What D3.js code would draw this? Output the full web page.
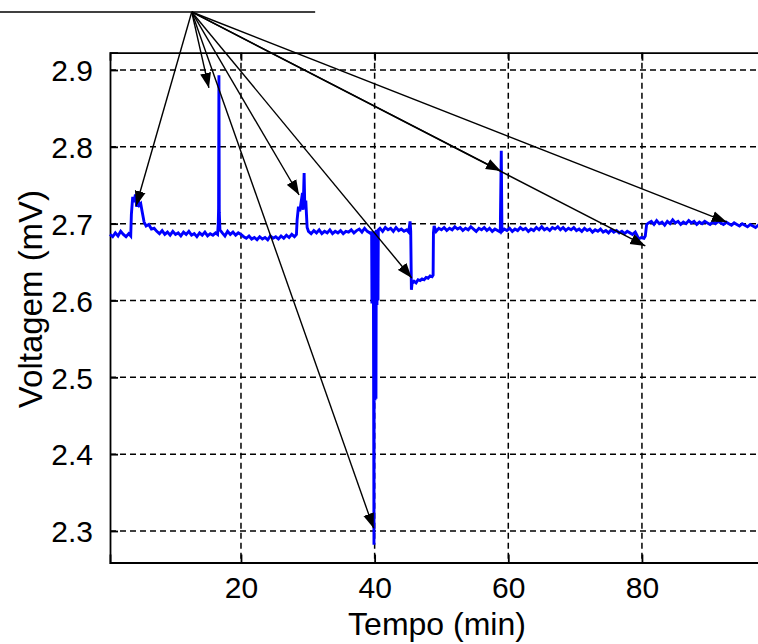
<!DOCTYPE html>
<html>
<head>
<meta charset="utf-8">
<script src="https://cdn.jsdelivr.net/npm/d3@7"></script>
<style>
  html, body { margin: 0; padding: 0; background: #fff; }
  svg { display: block; }
  text { font-family: "Liberation Sans", Arial, sans-serif; fill: #000; }
</style>
</head>
<body>
<svg id="chart" width="758" height="644"></svg>
<script>
// ---------------- data ----------------
const xTicks = [20, 40, 60, 80];
const yTicks = [2.3, 2.4, 2.5, 2.6, 2.7, 2.8, 2.9];
const xLabel = "Tempo (min)";
const yLabel = "Voltagem (mV)";

// time (min)
const tempo = [
  0.4, 0.8, 1.2, 1.6, 2.0, 2.4, 2.8, 3.2, 3.5,
  3.6, 3.8, 4.0, 4.2, 4.4, 4.6, 4.8, 5.0, 5.2, 5.5, 5.8, 6.2, 6.6, 7.0,
  7.4, 7.8, 8.2, 8.6, 9.0, 9.4, 9.8, 10.2, 10.6, 11.0, 11.4, 11.8, 12.2, 12.6, 13.0, 13.4, 13.8, 14.2, 14.6, 15.0, 15.4, 15.8, 16.2, 16.5,
  16.6, 16.65, 16.7, 16.75, 16.85,
  17.2, 17.6, 18.0, 18.4, 18.8, 19.2, 19.6, 20.0, 20.4, 20.8, 21.2, 21.6, 22.0, 22.4, 22.8, 23.2, 23.6, 24.0, 24.4, 24.8, 25.2, 25.6, 26.0, 26.4, 26.8, 27.2, 27.6, 28.0, 28.3,
  28.4, 28.6, 28.8, 29.0, 29.2, 29.3, 29.45, 29.55, 29.7, 29.8, 29.9, 30.1,
  30.5, 30.9, 31.3, 31.7, 32.1, 32.5, 32.9, 33.3, 33.7, 34.1, 34.5, 34.9, 35.3, 35.7, 36.1, 36.5, 36.9, 37.3, 37.7, 38.1, 38.5, 38.9, 39.3, 39.5,
  39.55, 39.6, 39.65, 39.75, 39.8, 39.9, 39.95, 40.05, 40.1, 40.2, 40.25, 40.35, 40.4, 40.5, 40.55,
  40.8, 41.2, 41.6, 42.0, 42.4, 42.8, 43.2, 43.6, 44.0, 44.4, 44.8, 45.1, 45.3, 45.4,
  45.5, 45.6, 45.9, 46.2, 46.5, 46.8, 47.1, 47.4, 47.7, 48.0, 48.3, 48.6, 48.75,
  48.8, 48.9, 49.2, 49.6, 50.0, 50.4, 50.8, 51.2, 51.6, 52.0, 52.4, 52.8, 53.2, 53.6, 54.0, 54.4, 54.8, 55.2, 55.6, 56.0, 56.4, 56.8, 57.2, 57.6, 58.0, 58.4, 58.8,
  58.95, 59.05,
  59.4, 59.8, 60.2, 60.6, 61.0, 61.4, 61.8, 62.2, 62.6, 63.0, 63.4, 63.8, 64.2, 64.6, 65.0, 65.4, 65.8, 66.2, 66.6, 67.0, 67.4, 67.8, 68.2, 68.6, 69.0, 69.4, 69.8,
  70.2, 70.6, 71.0, 71.4, 71.8, 72.2, 72.6, 73.0, 73.4, 73.8, 74.2, 74.6, 75.0, 75.4, 75.8, 76.2, 76.6, 77.0, 77.4, 77.8, 78.2, 78.6, 79.0, 79.3,
  79.5, 79.9, 80.3, 80.5, 80.7,
  81.0, 81.4, 81.8, 82.2, 82.6, 83.0, 83.4, 83.8, 84.2, 84.6, 85.0, 85.4, 85.8, 86.2, 86.6, 87.0, 87.4, 87.8, 88.2, 88.6, 89.0, 89.4, 89.8,
  90.2, 90.6, 91.0, 91.4, 91.8, 92.2, 92.6, 93.0, 93.4, 93.8, 94.2, 94.6, 95.0, 95.4, 95.8, 96.2, 96.6, 97.0, 97.4, 97.8, 98.2, 98.6, 99.0, 99.4, 99.8
];

// voltage (mV)
const voltagem = [
  2.686, 2.683, 2.688, 2.684, 2.690, 2.686, 2.683, 2.687, 2.684,
  2.712, 2.735, 2.728, 2.738, 2.722, 2.732, 2.724, 2.726, 2.716, 2.702, 2.697, 2.699, 2.693, 2.694,
  2.690, 2.687, 2.691, 2.686, 2.689, 2.685, 2.690, 2.686, 2.688, 2.684, 2.689, 2.686, 2.690, 2.685, 2.687, 2.683, 2.688, 2.685, 2.689, 2.684, 2.687, 2.685, 2.688, 2.686,
  2.700, 2.720, 2.893, 2.715, 2.692,
  2.688, 2.684, 2.690, 2.686, 2.689, 2.685, 2.688, 2.686, 2.683, 2.681, 2.684, 2.680, 2.682, 2.679, 2.683, 2.680, 2.682, 2.679, 2.684, 2.681, 2.683, 2.680, 2.684, 2.681, 2.685, 2.682, 2.686, 2.683, 2.686,
  2.705, 2.722, 2.716, 2.728, 2.740, 2.718, 2.766, 2.720, 2.730, 2.712, 2.695, 2.690,
  2.687, 2.691, 2.688, 2.692, 2.687, 2.690, 2.688, 2.692, 2.687, 2.690, 2.688, 2.691, 2.687, 2.690, 2.689, 2.692, 2.688, 2.691, 2.693, 2.689, 2.694, 2.690, 2.688, 2.686,
  2.690, 2.596, 2.688, 2.600, 2.690, 2.282, 2.690, 2.470, 2.690, 2.472, 2.692, 2.594, 2.690, 2.600, 2.692,
  2.694, 2.690, 2.695, 2.692, 2.694, 2.690, 2.695, 2.691, 2.693, 2.690, 2.692, 2.689, 2.703, 2.690,
  2.614, 2.622, 2.625, 2.623, 2.627, 2.626, 2.628, 2.627, 2.630, 2.629, 2.632, 2.631, 2.633,
  2.688, 2.697, 2.690, 2.694, 2.692, 2.695, 2.691, 2.694, 2.692, 2.696, 2.693, 2.695, 2.691, 2.694, 2.692, 2.696, 2.693, 2.690, 2.694, 2.692, 2.695, 2.691, 2.694, 2.690, 2.693, 2.691, 2.689,
  2.795, 2.690,
  2.693, 2.691, 2.694, 2.690, 2.693, 2.691, 2.695, 2.692, 2.694, 2.690, 2.693, 2.691, 2.695, 2.692, 2.696, 2.692, 2.694, 2.691, 2.695, 2.693, 2.696, 2.692, 2.695, 2.691, 2.694, 2.692, 2.695,
  2.691, 2.693, 2.690, 2.694, 2.691, 2.693, 2.689, 2.692, 2.690, 2.693, 2.689, 2.691, 2.688, 2.692, 2.689, 2.691, 2.688, 2.690, 2.687, 2.690, 2.688, 2.686, 2.689, 2.684,
  2.680, 2.682, 2.681, 2.684, 2.699,
  2.701, 2.703, 2.699, 2.704, 2.700, 2.702, 2.698, 2.703, 2.700, 2.705, 2.701, 2.703, 2.699, 2.702, 2.700, 2.704, 2.701, 2.703, 2.699, 2.702, 2.700, 2.703, 2.701,
  2.699, 2.702, 2.700, 2.703, 2.701, 2.699, 2.702, 2.700, 2.698, 2.701, 2.699, 2.697, 2.700, 2.698, 2.696, 2.699, 2.697, 2.695, 2.698, 2.696, 2.697, 2.695, 2.698, 2.696, 2.697
];

// annotation: arrows from a common origin to marked events (data coords)
const arrowOrigin = [12.63, 2.9755];
const headerLine = [[-16.5, 2.9755], [31.1, 2.9755]];
const arrowTargetsT = [4.3, 15.2, 28.7, 39.85, 45.55, 58.9, 80.5, 92.7];
const arrowTargetsV = [2.723, 2.8766, 2.7373, 2.3035, 2.6293, 2.7685, 2.671, 2.702];

// ---------------- chart ----------------
const svg = d3.select("#chart");
const mLeft = 110, mRight = 775.6, mTop = 52.7, mBottom = 562.5;

const x = d3.scaleLinear().domain([0.4, 100]).range([mLeft, mRight]);
const y = d3.scaleLinear().domain([2.259, 2.9225]).range([mBottom, mTop]);

// grid
const grid = svg.append("g");
grid.selectAll("line.gx").data(xTicks).enter().append("line")
  .attr("x1", d => x(d)).attr("x2", d => x(d))
  .attr("y1", mTop).attr("y2", mBottom)
  .attr("stroke", "#000").attr("stroke-width", 1.5)
  .attr("stroke-dasharray", "6,4");
grid.selectAll("line.gy").data(yTicks).enter().append("line")
  .attr("x1", mLeft).attr("x2", mRight)
  .attr("y1", d => y(d)).attr("y2", d => y(d))
  .attr("stroke", "#000").attr("stroke-width", 1.5)
  .attr("stroke-dasharray", "6,4");

// axes with inward ticks
const xAxisB = d3.axisBottom(x).tickValues(xTicks).tickSize(-8).tickPadding(14).tickFormat(d3.format("d"));
const xAxisT = d3.axisTop(x).tickValues(xTicks).tickSize(-8).tickFormat("");
const yAxisL = d3.axisLeft(y).tickValues(yTicks).tickSize(-8).tickPadding(17).tickFormat(d3.format(".1f"));

const gx = svg.append("g").attr("transform", `translate(0,${mBottom})`).call(xAxisB);
const gxt = svg.append("g").attr("transform", `translate(0,${mTop})`).call(xAxisT);
const gy = svg.append("g").attr("transform", `translate(${mLeft},0)`).call(yAxisL);
[gx, gxt, gy].forEach(g => {
  g.select(".domain").attr("stroke", "#000").attr("stroke-width", 1.8);
  g.selectAll(".tick line").attr("stroke", "#000").attr("stroke-width", 1.8);
  g.selectAll(".tick text").attr("font-family", "'Liberation Sans', Arial, sans-serif")
    .attr("font-size", 30).attr("fill", "#000");
});
gx.selectAll(".tick text").attr("dy", "0.71em");
gy.selectAll(".tick text").attr("dy", "0.36em");

// trace
const data = tempo.map((t, i) => [t, voltagem[i]]);
const line = d3.line().x(d => x(d[0])).y(d => y(d[1]));
svg.append("path").datum(data)
  .attr("d", line)
  .attr("fill", "none")
  .attr("stroke", "#0000ff")
  .attr("stroke-width", 2.9)
  .attr("stroke-linejoin", "miter");

// labels
svg.append("text").attr("x", 437).attr("y", 635)
  .attr("text-anchor", "middle").attr("font-size", 32).text(xLabel);
svg.append("text").attr("transform", `translate(42,299) rotate(-90)`)
  .attr("text-anchor", "middle").attr("font-size", 33).text(yLabel);

// annotation header line
svg.append("line")
  .attr("x1", x(headerLine[0][0])).attr("y1", y(headerLine[0][1]))
  .attr("x2", x(headerLine[1][0])).attr("y2", y(headerLine[1][1]))
  .attr("stroke", "#000").attr("stroke-width", 1.6);

// arrow heads
const defs = svg.append("defs");
defs.append("marker").attr("id", "head")
  .attr("markerUnits", "userSpaceOnUse")
  .attr("markerWidth", 16).attr("markerHeight", 12)
  .attr("viewBox", "0 -6 16 12")
  .attr("refX", 15).attr("refY", 0)
  .attr("orient", "auto")
  .append("path").attr("d", "M0,-5.5L15,0L0,5.5Z").attr("fill", "#000");

svg.append("g").selectAll("line").data(arrowTargetsT).enter().append("line")
  .attr("x1", x(arrowOrigin[0])).attr("y1", y(arrowOrigin[1]))
  .attr("x2", d => x(d)).attr("y2", (d, i) => y(arrowTargetsV[i]))
  .attr("stroke", "#000").attr("stroke-width", 1.4)
  .attr("marker-end", "url(#head)");
</script>
</body>
</html>
